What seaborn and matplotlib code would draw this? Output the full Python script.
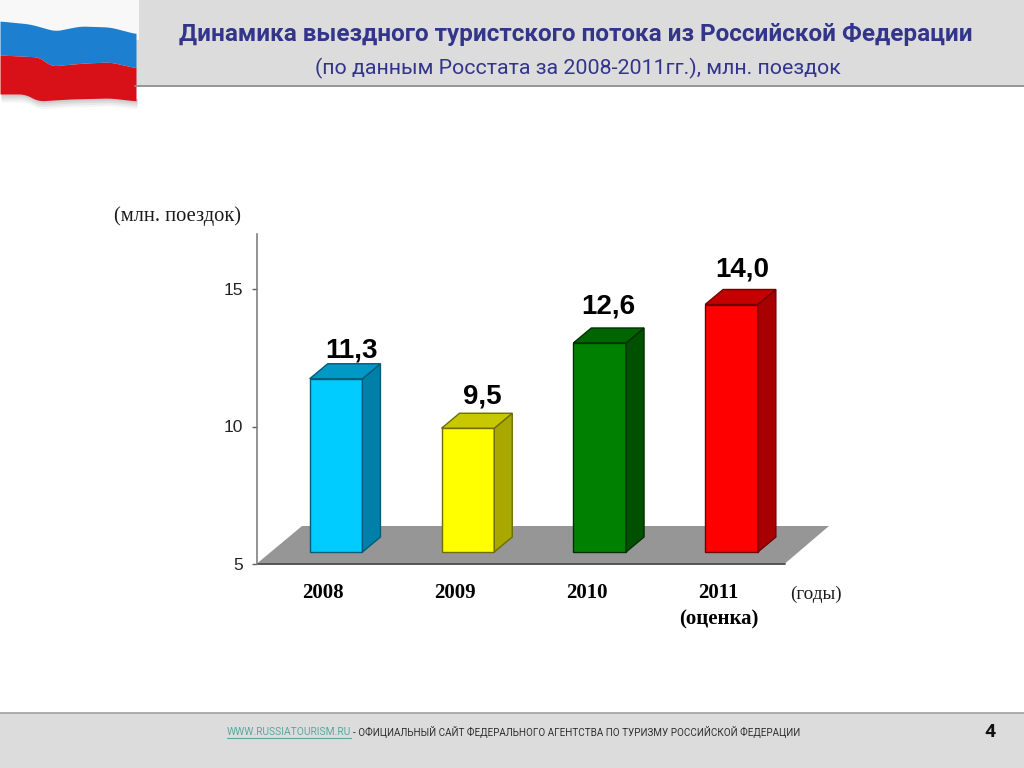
import numpy as np
import pandas as pd
import matplotlib
matplotlib.use("Agg")
import matplotlib.pyplot as plt
from matplotlib.transforms import ScaledTranslation
import seaborn as sns

years = ["2008", "2009", "2010", "2011\n(оценка)"]
values = [11.3, 9.5, 12.6, 14.0]
front_colors = ["#00CCFF", "#FFFF00", "#008000", "#FF0000"]
side_colors = ["#0080A8", "#A8A800", "#005000", "#A80000"]
top_colors = ["#0098C4", "#C8C800", "#006400", "#C40000"]
edge_colors = ["#005C78", "#6E6E00", "#003000", "#700000"]
y_ticks = [5, 10, 15]
title_main = "Динамика выездного туристского потока из Российской Федерации"
title_sub = "(по данным Росстата за 2008-2011гг.), млн. поездок"
y_unit = "(млн. поездок)"
x_unit = "(годы)"
footer_link = "WWW.RUSSIATOURISM.RU"
footer_text = "- ОФИЦИАЛЬНЫЙ САЙТ ФЕДЕРАЛЬНОГО АГЕНТСТВА ПО ТУРИЗМУ РОССИЙСКОЙ ФЕДЕРАЦИИ"
page_number = "4"

sns.set_theme(style="white")
narrow = "Roboto"
plt.rcParams["font.family"] = ["Liberation Sans", "DejaVu Sans"]

W, H = 1024, 768
fig = plt.figure(figsize=(W / 100, H / 100), dpi=100, facecolor="white")

# page decoration, in pixel coordinates
bg = fig.add_axes([0, 0, 1, 1], zorder=0)
bg.set_xlim(0, W)
bg.set_ylim(H, 0)
bg.axis("off")
bg.fill_between([135, W], 0, 85, color="#DCDCDC", lw=0)
bg.plot([135, W], [85.5, 85.5], color="#8C8C8C", lw=1.3)
bg.fill_between([0, W], 713, H, color="#DCDCDC", lw=0)
bg.plot([0, W], [713, 713], color="#A0A0A0", lw=1.2)

# flag
fx = np.linspace(0, 136, 140)
def wave(xs, ys):
    y = np.interp(fx, xs, ys)
    return np.convolve(np.pad(y, 6, mode="edge"), np.ones(13) / 13, mode="valid")
b1 = wave([0, 30, 55, 80, 110, 137], [21, 24, 31, 26, 27, 34])
b2 = wave([0, 40, 50, 85, 110, 137], [55, 57, 66, 63, 62, 68])
b3 = wave([0, 25, 38, 70, 110, 137], [94, 94, 101, 99, 98, 101])
for k, a in enumerate([0.06, 0.08, 0.1, 0.12]):
    bg.fill_between(fx + 1, b3 - 2, b3 + 8 - k * 2, color="#606060", alpha=a, lw=0)
bg.fill_between([0, 139], 0, 40, color="#F8F8F8", lw=0)
bg.fill_between(fx, b1, b2, color="#1C7FD0", lw=0)
bg.fill_between(fx, b2, b3, color="#D81018", lw=0)

# chart
data = pd.DataFrame({"year": years, "value": values})
ax = fig.add_axes([257 / W, 1 - 564 / H, (785 - 257) / W, (564 - 234) / H], zorder=1)
ax.patch.set_alpha(0)
sns.barplot(data=data, x="year", y="value", hue="year", palette=front_colors,
            saturation=1, width=0.4, legend=False, ax=ax)
ax.set_xlim(-0.6, 3.406)
ax.set_ylim(5, 17)
ax.set_yticks(y_ticks)
ax.set_xlabel("")
ax.set_ylabel("")
sns.despine(ax=ax, top=True, right=True, bottom=True)
ax.spines["left"].set_color("#808080")
ax.spines["left"].set_linewidth(1.2)
ax.tick_params(axis="y", length=3.8, width=1, color="#606060", pad=6.2, left=True,
               labelsize=12.5, labelcolor="#222222")
ax.tick_params(axis="x", length=0, pad=14)
ax.set_xticks(range(len(years)))
ax.set_xticklabels(years, family="Liberation Serif", weight="bold", fontsize=15,
                   color="black", linespacing=1.38)
shift_x = ScaledTranslation(-13 * 0.72 / 72, 0, fig.dpi_scale_trans)
for lab in ax.get_xticklabels():
    lab.set_transform(lab.get_transform() + shift_x)

# floor and 3D bar faces, in pixel offsets from the data position
to_px = ax.transData
inv = bg.transData.inverted()
def page(x, y):
    return inv.transform(to_px.transform((x, y)))
fig.canvas.draw()
y5 = page(0, 5)[1]
bg.fill([257, 785, 829, 302], [y5 - 0.5, y5 - 0.5, 526, 526], color="#969696", lw=0)
bg.plot([257, 785], [y5, y5], color="#4A4A4A", lw=1.3)

lift = 12
dx, dy = 18, 15
label_off = [(15, 28), (14, 32), (9, 36), (11, 35)]
for i, (bar, v) in enumerate(zip(ax.patches, values)):
    x0 = bar.get_x()
    w = bar.get_width()
    bar.set_visible(False)
    xl, yt = page(x0, v)
    xr, yb = page(x0 + w, 5)
    yt -= lift
    yb -= lift
    kw = dict(lw=1.0, edgecolor=edge_colors[i], zorder=3)
    bg.fill([xl, xr, xr, xl], [yb, yb, yt, yt], facecolor=front_colors[i], **kw)
    bg.fill([xr, xr + dx, xr + dx, xr], [yb, yb - dy, yt - dy, yt], facecolor=side_colors[i], **kw)
    bg.fill([xl, xr, xr + dx, xl + dx], [yt, yt, yt - dy, yt - dy], facecolor=top_colors[i], **kw)
    ox, oy = label_off[i]
    bg.text((xl + xr) / 2 + ox, yt - oy, f"{v:.1f}".replace(".", ","),
            ha="center", va="center", fontsize=20, weight="bold", color="black", zorder=5)

serif = dict(family="Liberation Serif", color="#1A1A1A", va="center")
bg.text(177, 216, y_unit, ha="center", fontsize=14.8, **serif)
bg.text(816, 594, x_unit, ha="center", fontsize=13.8, **serif)

title_color = "#33358A"
bg.text(576, 34, title_main, ha="center", va="center", family=narrow, weight="bold",
        fontsize=17.45, color=title_color)
bg.text(578, 68, title_sub, ha="center", va="center", family=narrow, fontsize=15.4,
        color=title_color)

bg.text(227, 732, footer_link, ha="left", va="center", family=narrow, fontsize=7.4,
        color="#5AA8A0")
bg.plot([227, 351], [738, 738], color="#5AA8A0", lw=0.8)
bg.text(353, 732, footer_text, ha="left", va="center", family=narrow, fontsize=7.15,
        color="#303030")
bg.text(990, 732, page_number, ha="center", va="center", family=narrow, weight="bold",
        fontsize=14, color="#111111")

fig.savefig("out.png", dpi=100)
